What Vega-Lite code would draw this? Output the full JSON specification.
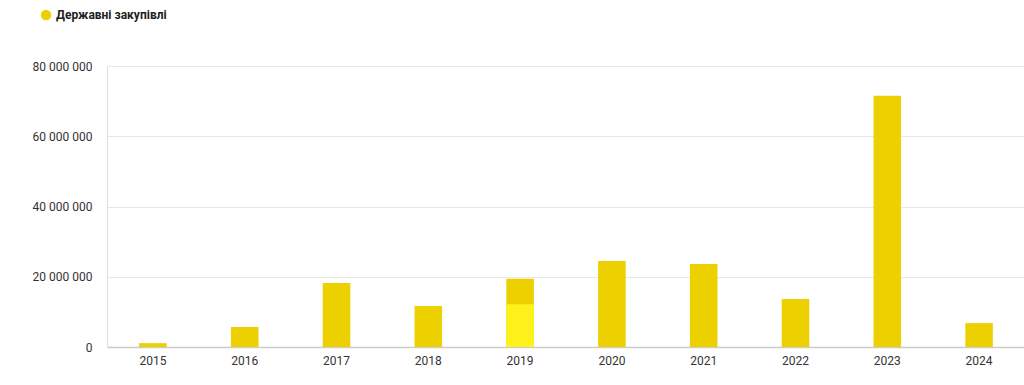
{
  "$schema": "https://vega.github.io/schema/vega-lite/v6.json",
  "width": 918,
  "height": 281,
  "autosize": {"type": "none"},
  "padding": {"left": 107, "top": 66, "right": 0, "bottom": 38},
  "background": "white",
  "config": {
    "view": {"stroke": null},
    "font": "Roboto",
    "axis": {"labelFont": "Roboto", "labelColor": "#333333", "labelFontSize": 12, "titleFont": "Roboto"}
  },
  "data": {
    "values": [
      {"year": "2015", "value": 1100000, "series": "Державні закупівлі"},
      {"year": "2016", "value": 5700000, "series": "Державні закупівлі"},
      {"year": "2017", "value": 18200000, "series": "Державні закупівлі"},
      {"year": "2018", "value": 11700000, "series": "Державні закупівлі"},
      {"year": "2019", "value": 19400000, "highlight": 12200000, "series": "Державні закупівлі"},
      {"year": "2020", "value": 24500000, "series": "Державні закупівлі"},
      {"year": "2021", "value": 23600000, "series": "Державні закупівлі"},
      {"year": "2022", "value": 13700000, "series": "Державні закупівлі"},
      {"year": "2023", "value": 71500000, "series": "Державні закупівлі"},
      {"year": "2024", "value": 6800000, "series": "Державні закупівлі"}
    ]
  },
  "encoding": {
    "x": {
      "field": "year", "type": "ordinal",
      "scale": {"paddingInner": 0.7, "paddingOuter": 0.35},
      "axis": {"title": null, "labelAngle": 0, "ticks": false, "labelPadding": 8, "domainColor": "#cccccc", "domainWidth": 1.5}
    }
  },
  "layer": [
    {
      "mark": {"type": "bar"},
      "encoding": {
        "y": {
          "field": "value", "type": "quantitative",
          "scale": {"domain": [0, 80000000]},
          "axis": {
            "title": null, "values": [0, 20000000, 40000000, 60000000, 80000000],
            "ticks": false, "labelPadding": 15, "labelOverlap": false,
            "domain": true, "domainColor": "#dddddd",
            "gridColor": "#e8e8e8",
            "labelExpr": "replace(format(datum.value, ','), regexp(',', 'g'), ' ')"
          }
        },
        "color": {
          "field": "series", "type": "nominal",
          "scale": {"domain": ["Державні закупівлі"], "range": ["#EDD000"]},
          "legend": {
            "title": null, "orient": "none", "legendX": -67, "legendY": -57,
            "symbolType": "circle", "symbolSize": 110, "labelFont": "Roboto",
            "labelFontWeight": "bold", "labelFontSize": 12, "labelColor": "#222222", "symbolOpacity": 1
          }
        }
      }
    },
    {
      "transform": [{"filter": "isValid(datum.highlight)"}],
      "mark": {"type": "bar", "color": "#FFF21A"},
      "encoding": {
        "y": {"field": "highlight", "type": "quantitative"}
      }
    }
  ]
}
